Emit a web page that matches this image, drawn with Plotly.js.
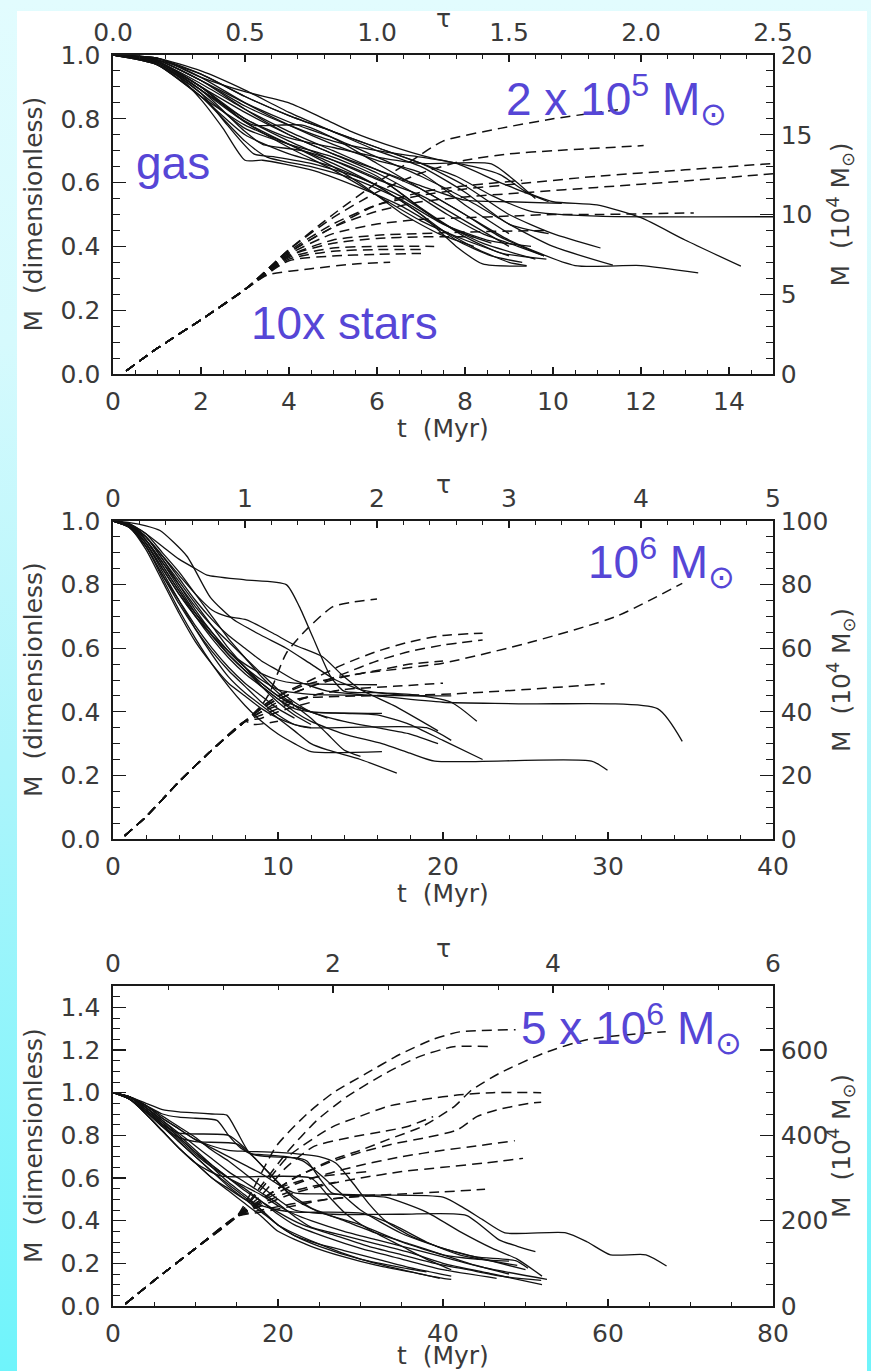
<!DOCTYPE html>
<html>
<head>
<meta charset="utf-8">
<script src="https://cdn.plot.ly/plotly-3.0.1.min.js"></script>
<style>
html,body{margin:0;padding:0;}
body{width:871px;height:1371px;overflow:hidden;
background:linear-gradient(to bottom,#e2fcfe 0%,#d6fafd 25%,#aef5fb 55%,#6ff4fb 100%);}
#plot{width:871px;height:1371px;}
</style>
</head>
<body>
<div id="plot"></div>
<script>
// ---------------- DATA ----------------
// Panel 1: 2 x 10^5 Msun cloud
const p1GasT = [
 [0,0.5,1,1.5,2,2.5,3,3.4,4.5,5.5,6.5,7.5,8.3,9.0,9.4],
 [0,1,2,2.6,3.2,3.7,4.5,5.5,6.5,7.3,8.0,8.8,9.85],
 [0,1,2,3,3.4,4.3,5.2,6.2,7.0,7.8,8.6],
 [0,1,2,2.8,3.2,4.3,5,6,7,8,8.8,9.8],
 [0,1,2,3,4,5,6,6.8,7.6,8.4,9.2,9.8],
 [0,1,2,3,4,4.8,5.5,6.2,7.3,8.2,8.8,9.4,10,11,12,13,14.27],
 [0,1,2,3,4,5,6,7,7.8,8.6,9.5,11,15],
 [0,1,2,3,4,5,6,7,8,9,10.5,12,13.3],
 [0,1,2,3,4,5,6,7,8,9,10,11.36],
 [0,1,2,3,4,5,6,7,8,9,10,11.08],
 [0,1,2,3,4,5,6,7,8.6,9.1,9.6],
 [0,1,2,3,4,5,6,7,8,9,10.2],
 [0,1,2,3,4,5,6,7,7.8,8.6,9.3],
 [0,1,2,3,4,5,6,7,8,9],
 [0,1,2,3,4,5,6,6.6,7.4,8.4,9.6],
 [0,1,2,3,4,5,6,7,7.8,8.8,9.9],
 [0,1,2,3,4,5,6,7,8,9],
 [0,1,2,3,4,5,5.8,6.6,7.4,8.2],
 [0,1,2,3,4,5,6,7,8,9,9.9],
 [0,1,2,3,4,5,6,7,7.8,8.4,9.4],
 [0,1,2,3,3.5,4.5,5.5,6.5,7.5,8.5,9.5],
 [0,1,2,3,4,5,6,7,8,9]
];
const p1GasM = [
 [1,0.995,0.97,0.93,0.86,0.77,0.67,0.67,0.64,0.59,0.53,0.45,0.39,0.35,0.34],
 [1,0.975,0.88,0.78,0.69,0.68,0.66,0.62,0.56,0.49,0.43,0.38,0.36],
 [1,0.98,0.89,0.76,0.72,0.70,0.66,0.60,0.52,0.45,0.41],
 [1,0.98,0.90,0.81,0.78,0.78,0.74,0.66,0.58,0.50,0.43,0.37],
 [1,0.985,0.92,0.83,0.75,0.69,0.63,0.57,0.50,0.44,0.40,0.37],
 [1,0.99,0.93,0.885,0.85,0.80,0.755,0.72,0.675,0.65,0.625,0.57,0.54,0.53,0.49,0.42,0.338],
 [1,0.985,0.94,0.87,0.81,0.76,0.71,0.66,0.62,0.56,0.51,0.495,0.493],
 [1,0.98,0.91,0.83,0.76,0.70,0.64,0.58,0.50,0.42,0.34,0.34,0.317],
 [1,0.985,0.92,0.85,0.79,0.74,0.68,0.62,0.55,0.47,0.40,0.341],
 [1,0.99,0.94,0.87,0.81,0.76,0.71,0.66,0.59,0.50,0.44,0.395],
 [1,0.98,0.90,0.80,0.74,0.71,0.68,0.66,0.659,0.61,0.55],
 [1,0.98,0.90,0.82,0.75,0.69,0.64,0.59,0.545,0.54,0.535],
 [1,0.97,0.87,0.75,0.69,0.65,0.59,0.50,0.42,0.37,0.35],
 [1,0.98,0.90,0.79,0.71,0.64,0.56,0.48,0.42,0.37],
 [1,0.975,0.88,0.77,0.72,0.68,0.62,0.56,0.48,0.41,0.36],
 [1,0.985,0.92,0.84,0.78,0.73,0.70,0.68,0.66,0.60,0.54],
 [1,0.975,0.89,0.80,0.73,0.67,0.61,0.56,0.48,0.40],
 [1,0.97,0.87,0.78,0.72,0.65,0.58,0.50,0.44,0.40],
 [1,0.99,0.95,0.89,0.82,0.76,0.70,0.65,0.57,0.47,0.44],
 [1,0.98,0.89,0.79,0.72,0.66,0.59,0.50,0.40,0.345,0.338],
 [1,0.97,0.87,0.73,0.68,0.65,0.61,0.55,0.47,0.42,0.40],
 [1,0.99,0.93,0.85,0.78,0.72,0.67,0.63,0.53,0.44]
];
const p1StarStartT = [0.3,1,2,3];
const p1StarStartM = [0.01,0.08,0.17,0.265];
const p1StarT = [
 [4,5,6,6.8,7.5,8.8,10,11.55],
 [4,5,6,7,8,9,10,12.06],
 [4,5,6,7,8,9.5,11,13,15],
 [4,5,6,7,8,9.5,11,13,15],
 [4,5,6,7,8,9.3],
 [4,5,6,7,8,9,10,11,13.2],
 [4,5,6,7,8,9.8],
 [4,5,6,7.3],
 [4,5,6,7.0],
 [3.5,4.5,5.5,6.3],
 [4,5,6,7,8.2],
 [4,5,6,7]
];
const p1StarM = [
 [0.39,0.50,0.60,0.67,0.73,0.77,0.80,0.83],
 [0.39,0.49,0.57,0.63,0.67,0.69,0.70,0.716],
 [0.385,0.47,0.53,0.56,0.58,0.60,0.62,0.64,0.66],
 [0.38,0.46,0.51,0.54,0.555,0.57,0.585,0.605,0.628],
 [0.38,0.46,0.53,0.57,0.59,0.607],
 [0.375,0.44,0.47,0.485,0.49,0.495,0.50,0.50,0.505],
 [0.37,0.42,0.435,0.44,0.445,0.45],
 [0.365,0.395,0.40,0.40],
 [0.355,0.37,0.375,0.378],
 [0.31,0.33,0.345,0.35],
 [0.37,0.41,0.425,0.43,0.43],
 [0.36,0.385,0.39,0.39]
];

// Panel 2: 10^6 Msun cloud
const p2GasT = [
 [0,1,2,3,4,5,5.7,8,10.5,11.3,12.1,13.2,14,16,18,20.5,22.05],
 [0,1,2,3,4,5,6,7,8,9,10,11,13,16,20,25,33,34.5],
 [0,1,2,3,4,5,6,7,8,9,10,11,12,14,16.3,18,19.5,29,29.97],
 [0,1,2,3,4,5,6,7,8,9,10,11,12,14,16,18,20,22.4],
 [0,1,2,3,4,5,6,7,8,9,10,11,12,13,15,17.2],
 [0,1,2,3,4,5,6,7,8,9,10,11,11.8,19,20.5],
 [0,1,2,3,4,5,6,7,8,9,10,11,12,16.3],
 [0,1,2,3,4,5,6,7,8,9,10,11,12,16.3],
 [0,1,2,3,4,5,6,6.9,8.1,9.7,11,12.7,13.8,15,17,19.7],
 [0,1,2,2.85,4.47,5.9,7.3,9,10.5,12,13.5,15,17,19],
 [0,1,2,3,4,5,6,7,8,9,10,11,12,13],
 [0,1,2,3,4,5,6,7,8,9,10,11,12],
 [0,1,2,3,4,5,6,7,8,9,10,11,16],
 [0,1,2,3,4,5,6,7,8,9,10,11,12,20.5],
 [0,1,2,3,4,5,6,7,8,9,10,11,12],
 [0,1,2,3,4,5,6,7,8,9,10,11],
 [0,1,2,3,4,5,6,7,8,9,10,11,12,13,14,15],
 [0,1,2,3,4,5,6,7,8,9,10,11,12,14,16,18,19.7]
];
const p2GasM = [
 [1,0.99,0.96,0.92,0.88,0.85,0.83,0.815,0.80,0.73,0.636,0.51,0.465,0.46,0.455,0.43,0.37],
 [1,0.99,0.95,0.89,0.82,0.75,0.69,0.64,0.60,0.56,0.53,0.50,0.465,0.45,0.43,0.425,0.41,0.307],
 [1,0.99,0.94,0.87,0.79,0.71,0.64,0.58,0.53,0.48,0.44,0.40,0.37,0.33,0.30,0.27,0.245,0.245,0.216],
 [1,0.985,0.93,0.85,0.77,0.70,0.64,0.58,0.53,0.49,0.45,0.42,0.40,0.395,0.39,0.36,0.31,0.25],
 [1,0.98,0.93,0.84,0.75,0.66,0.58,0.51,0.46,0.42,0.38,0.34,0.30,0.28,0.25,0.207],
 [1,0.98,0.92,0.83,0.74,0.66,0.59,0.53,0.48,0.43,0.39,0.36,0.35,0.35,0.31],
 [1,0.985,0.94,0.86,0.78,0.70,0.63,0.57,0.52,0.48,0.44,0.41,0.40,0.395],
 [1,0.98,0.92,0.82,0.72,0.63,0.55,0.48,0.42,0.37,0.33,0.30,0.275,0.275],
 [1,0.99,0.95,0.89,0.83,0.77,0.72,0.70,0.689,0.647,0.61,0.573,0.52,0.47,0.42,0.34],
 [1,0.995,0.985,0.97,0.89,0.76,0.69,0.64,0.60,0.55,0.50,0.47,0.455,0.45],
 [1,0.99,0.94,0.86,0.78,0.71,0.65,0.59,0.54,0.49,0.45,0.42,0.40,0.38],
 [1,0.98,0.91,0.81,0.71,0.62,0.55,0.49,0.45,0.41,0.38,0.36,0.35],
 [1,0.985,0.93,0.85,0.77,0.70,0.64,0.59,0.55,0.52,0.50,0.49,0.485],
 [1,0.99,0.95,0.88,0.80,0.72,0.65,0.59,0.54,0.50,0.47,0.46,0.455,0.45],
 [1,0.99,0.95,0.88,0.81,0.74,0.67,0.60,0.54,0.48,0.43,0.39,0.36],
 [1,0.98,0.92,0.83,0.75,0.67,0.60,0.54,0.49,0.45,0.41,0.38],
 [1,0.99,0.96,0.90,0.84,0.77,0.70,0.63,0.57,0.51,0.46,0.42,0.38,0.33,0.28,0.26],
 [1,0.985,0.94,0.87,0.80,0.73,0.67,0.62,0.57,0.52,0.47,0.43,0.40,0.37,0.35,0.33,0.30]
];
const p2StarStartT = [0.7,2,4,6,8];
const p2StarStartM = [0.01,0.07,0.18,0.28,0.37];
const p2StarT = [
 [9,9.5,10.5,11.7,13.3,14.5,16],
 [9,10,12,15,20,25.4,30.5,34.5],
 [9,10,12,14,16,18,20,22.4],
 [9,10,12,14,16,18,20,22.4],
 [9,10,12,15,20,25,29.8],
 [9,10,12,14,16,18,20],
 [9,10,12,14,17,20],
 [9,10,12,14],
 [9,10,12],
 [8.5,10]
];
const p2StarM = [
 [0.42,0.46,0.584,0.657,0.73,0.745,0.755],
 [0.415,0.45,0.49,0.52,0.553,0.62,0.70,0.804],
 [0.415,0.45,0.50,0.55,0.59,0.62,0.64,0.647],
 [0.41,0.44,0.48,0.52,0.56,0.59,0.61,0.626],
 [0.40,0.43,0.445,0.45,0.455,0.47,0.488],
 [0.41,0.44,0.48,0.51,0.53,0.55,0.56],
 [0.40,0.42,0.45,0.47,0.48,0.49],
 [0.39,0.41,0.45,0.47],
 [0.38,0.40,0.43],
 [0.36,0.37]
];

// Panel 3: 5 x 10^6 Msun cloud
const p3GasT = [
 [0,2,4,6,8,10,12,14,16,18,20,22,26,32,40,42.5,44.8,47.5,54.9,57.5,60.3,64.6,67.1],
 [0,2,4,6,8,10,12,14,16,18,20,22,26.6,35,42.8,46.8,49,51.2],
 [0,2,4,6,8,10,12,13.8,15,16.6,18,21,23,25,27,30,35,40,44,48.8,50.3],
 [0,2,4,6,8,10,12.6,14,15.5,17,19,22,23.5,25,26.5,28,33,38,42,46,49,52],
 [0,2,4,6,8,10,12,14,16,18,20,24,28,32,36,40,41],
 [0,2,4,6,8,10,12,14,16,18,20,25,30,35,39.6],
 [0,2,4,6,8,10,12,14,16,18,20,22,26,30,35,40,46.5],
 [0,2,4,6,8,10,12,14,16,18,20,22,24,28,32,36,40,45,52.6],
 [0,2,4,6,8,10,12,14,16,18,20,22,24,28,32,36,40,46,52],
 [0,2,4,6,8,14,16,18,20,22,25,30,35,40,44,48],
 [0,2,4,6,8,10,15,17,19,21,24,28,32,36,40,44,48],
 [0,2,4,6,8,10,13,24,26,28,31,35,38,41],
 [0,2,4,6,8,10,12,14,16,18,20,22,30,34,38,42,46,49],
 [0,2,4,6,8,10,12,14,16,18,20,23,27,31,35,39,43,47,51.9],
 [0,2,4,6,8,10,12,14,16,18,20,22,25,30,35,38],
 [0,2,4,6,8,10,12,14,16,20,25,27,29,31,33,36,40,45,50],
 [0,2,4,6,8,10,12,14,16,18,20,22,25,28,32,36,41]
];
const p3GasM = [
 [1,0.98,0.94,0.88,0.83,0.78,0.74,0.70,0.66,0.62,0.57,0.53,0.525,0.52,0.51,0.46,0.405,0.343,0.343,0.30,0.24,0.24,0.1875],
 [1,0.98,0.94,0.89,0.84,0.79,0.73,0.68,0.62,0.56,0.50,0.45,0.43,0.43,0.425,0.31,0.28,0.255],
 [1,0.98,0.95,0.92,0.91,0.905,0.90,0.895,0.82,0.716,0.71,0.70,0.68,0.62,0.55,0.45,0.34,0.27,0.23,0.2125,0.177],
 [1,0.98,0.94,0.90,0.885,0.88,0.87,0.80,0.74,0.71,0.70,0.695,0.68,0.60,0.53,0.52,0.51,0.44,0.35,0.27,0.22,0.14],
 [1,0.97,0.90,0.82,0.74,0.67,0.60,0.54,0.48,0.42,0.35,0.28,0.23,0.19,0.16,0.13,0.125],
 [1,0.97,0.91,0.84,0.77,0.70,0.63,0.57,0.51,0.45,0.38,0.29,0.22,0.17,0.13],
 [1,0.98,0.93,0.86,0.79,0.72,0.66,0.60,0.55,0.49,0.43,0.38,0.32,0.27,0.22,0.17,0.13],
 [1,0.98,0.92,0.85,0.78,0.71,0.65,0.60,0.56,0.52,0.47,0.43,0.40,0.35,0.31,0.27,0.23,0.18,0.125],
 [1,0.98,0.93,0.87,0.81,0.75,0.69,0.63,0.58,0.53,0.48,0.42,0.37,0.33,0.29,0.25,0.20,0.15,0.10],
 [1,0.97,0.91,0.85,0.81,0.80,0.74,0.66,0.58,0.50,0.44,0.38,0.30,0.24,0.22,0.21],
 [1,0.97,0.91,0.84,0.79,0.77,0.76,0.70,0.62,0.54,0.46,0.40,0.34,0.29,0.24,0.19,0.15],
 [1,0.97,0.90,0.82,0.74,0.67,0.61,0.60,0.52,0.44,0.36,0.28,0.22,0.17],
 [1,0.97,0.90,0.82,0.74,0.67,0.60,0.55,0.50,0.47,0.45,0.44,0.435,0.38,0.30,0.24,0.21,0.19],
 [1,0.98,0.93,0.87,0.80,0.73,0.66,0.60,0.54,0.49,0.44,0.38,0.33,0.28,0.24,0.20,0.17,0.14,0.12],
 [1,0.97,0.92,0.86,0.79,0.72,0.65,0.58,0.52,0.45,0.38,0.33,0.28,0.22,0.18,0.16],
 [1,0.98,0.94,0.88,0.83,0.78,0.75,0.73,0.725,0.72,0.70,0.67,0.58,0.48,0.40,0.33,0.27,0.22,0.17],
 [1,0.98,0.92,0.85,0.77,0.70,0.63,0.56,0.50,0.44,0.38,0.33,0.29,0.26,0.22,0.18,0.14]
];
const p3StarStartT = [1.5,5,10,15];
const p3StarStartM = [0.01,0.12,0.27,0.42];
const p3StarT = [
 [17,19.8,23.5,26.7,30.7,34.8,38.8,42,48.8],
 [17.5,21,24.7,28.3,33,37.2,41.25,45.5],
 [18,22,26.6,30,33.3,37.4,41.4,43.4,46.8,52.2,57.6,67],
 [18,21.2,26.6,30,33.3,38,42,46,51.9],
 [18,22,26,30,34,38,41.7,44.1,46.5,50.5,51.9],
 [18,21,24.3,28.7,33,35.6,38.8],
 [18,22,26,30,35,40,44,48.7],
 [18,22,26,30,35,40,45,49.7],
 [18,22,26,30,35,40,45.1],
 [18,22,26,32],
 [18,21,24,27],
 [17,20,24,28,31]
];
const p3StarM = [
 [0.55,0.75,0.90,1.0,1.09,1.18,1.25,1.285,1.295],
 [0.54,0.716,0.87,0.98,1.09,1.17,1.215,1.216],
 [0.50,0.60,0.686,0.73,0.78,0.84,0.936,1.01,1.09,1.185,1.25,1.286],
 [0.55,0.70,0.84,0.89,0.936,0.97,0.99,1.0,1.0],
 [0.50,0.60,0.67,0.72,0.76,0.79,0.825,0.8875,0.919,0.95,0.955],
 [0.52,0.65,0.747,0.79,0.82,0.84,0.8875],
 [0.49,0.57,0.62,0.66,0.70,0.73,0.75,0.775],
 [0.47,0.53,0.57,0.60,0.63,0.65,0.67,0.692],
 [0.45,0.48,0.50,0.515,0.525,0.535,0.547],
 [0.44,0.47,0.50,0.52],
 [0.48,0.53,0.56,0.58],
 [0.46,0.55,0.60,0.62,0.63]
];

// Axis ticks and labels
const p1TTicks=[0,2,4,6,8,10,12,14], p1TLabels=["0","2","4","6","8","10","12","14"];
const p1TauTicks=[0,0.5,1,1.5,2,2.5], p1TauLabels=["0.0","0.5","1.0","1.5","2.0","2.5"];
const p1MTicks=[0,0.2,0.4,0.6,0.8,1.0], p1MLabels=["0.0","0.2","0.4","0.6","0.8","1.0"];
const p1RTicks=[0,5,10,15,20], p1RLabels=["0","5","10","15","20"];
const p2TTicks=[0,10,20,30,40], p2TLabels=["0","10","20","30","40"];
const p2TauTicks=[0,1,2,3,4,5], p2TauLabels=["0","1","2","3","4","5"];
const p2MTicks=[0,0.2,0.4,0.6,0.8,1.0], p2MLabels=["0.0","0.2","0.4","0.6","0.8","1.0"];
const p2RTicks=[0,20,40,60,80,100], p2RLabels=["0","20","40","60","80","100"];
const p3TTicks=[0,20,40,60,80], p3TLabels=["0","20","40","60","80"];
const p3TauTicks=[0,2,4,6], p3TauLabels=["0","2","4","6"];
const p3MTicks=[0,0.2,0.4,0.6,0.8,1.0,1.2,1.4], p3MLabels=["0.0","0.2","0.4","0.6","0.8","1.0","1.2","1.4"];
const p3RTicks=[0,200,400,600], p3RLabels=["0","200","400","600"];
const panelLabels=["2 x 10<sup>5</sup> M<sub>⊙</sub>","10<sup>6</sup> M<sub>⊙</sub>","5 x 10<sup>6</sup> M<sub>⊙</sub>"];

// ---------------- LAYOUT / DRAW ----------------
const W=871,H=1371;
const fx=p=>p/W, fy=p=>1-p/H;
const AX={left:113,right:773};
const panels=[
 {top:55,bottom:374,tR:[0,15],tauR:[0,2.5],mR:[0,1],rR:[0,20],tMin:0.5,tauMin:0.1,mMin:0.05,rMin:1,
  gT:p1GasT,gM:p1GasM,sT0:p1StarStartT,sM0:p1StarStartM,sT:p1StarT,sM:p1StarM,
  tt:[p1TTicks,p1TLabels],ta:[p1TauTicks,p1TauLabels],mm:[p1MTicks,p1MLabels],rr:[p1RTicks,p1RLabels]},
 {top:521,bottom:839,tR:[0,40],tauR:[0,5],mR:[0,1],rR:[0,100],tMin:2,tauMin:0.2,mMin:0.05,rMin:5,
  gT:p2GasT,gM:p2GasM,sT0:p2StarStartT,sM0:p2StarStartM,sT:p2StarT,sM:p2StarM,
  tt:[p2TTicks,p2TLabels],ta:[p2TauTicks,p2TauLabels],mm:[p2MTicks,p2MLabels],rr:[p2RTicks,p2RLabels]},
 {top:986,bottom:1306,tR:[0,80],tauR:[0,6],mR:[0,1.5],rR:[0,750],tMin:5,tauMin:0.5,mMin:0.05,rMin:50,
  gT:p3GasT,gM:p3GasM,sT0:p3StarStartT,sM0:p3StarStartM,sT:p3StarT,sM:p3StarM,
  tt:[p3TTicks,p3TLabels],ta:[p3TauTicks,p3TauLabels],mm:[p3MTicks,p3MLabels],rr:[p3RTicks,p3RLabels]}
];
const TXT='#3a3a3a', LN='#1a1a1a';
const tickFont={family:'DejaVu Sans, sans-serif',size:25,color:TXT};
const blue='#5646d6';
const layout={width:W,height:H,margin:{l:0,r:0,t:0,b:0},
 paper_bgcolor:'rgba(0,0,0,0)',plot_bgcolor:'rgba(0,0,0,0)',showlegend:false,
 shapes:[{type:'rect',xref:'paper',yref:'paper',x0:fx(17),x1:fx(867),y0:0,y1:fy(11),
   fillcolor:'#ffffff',line:{width:0},layer:'below'}],
 annotations:[]};
const data=[];
function baseAx(ticks,labels,len,minLen,minD){
 return {showline:true,linecolor:LN,linewidth:1.7,ticks:'inside',ticklen:len,tickwidth:1.3,tickcolor:LN,
  tickmode:'array',tickvals:ticks,ticktext:labels,tickfont:tickFont,showgrid:false,zeroline:false,
  fixedrange:true,minor:{ticks:'inside',ticklen:minLen,tickwidth:1,tickcolor:LN,tick0:0,dtick:minD,showgrid:false}};
}
panels.forEach((p,i)=>{
 const n=i*2+1, m=n+1;
 const xs=n===1?'':String(n), xs2=String(m);
 const xa='x'+xs, ya='y'+xs, xa2='x'+xs2, ya2='y'+xs2;
 const dom=[fy(p.bottom),fy(p.top)];
 layout['xaxis'+xs]=Object.assign(baseAx(p.tt[0],p.tt[1],7,4,p.tMin),{domain:[fx(AX.left),fx(AX.right)],range:p.tR,anchor:ya,side:'bottom',ticklabelstandoff:4});
 layout['yaxis'+xs]=Object.assign(baseAx(p.mm[0],p.mm[1],13,7,p.mMin),{domain:dom,range:p.mR,anchor:xa,side:'left',ticklabelstandoff:6});
 layout['xaxis'+xs2]=Object.assign(baseAx(p.ta[0],p.ta[1],7,4,p.tauMin),{overlaying:xa,range:p.tauR,anchor:ya,side:'top',ticklabelstandoff:2});
 layout['yaxis'+xs2]=Object.assign(baseAx(p.rr[0],p.rr[1],13,7,p.rMin),{overlaying:ya,range:p.rR,anchor:xa,side:'right',ticklabelstandoff:1});
 // empty traces to register overlay subplots
 data.push({type:'scatter',mode:'lines',x:[],y:[],xaxis:xa2,yaxis:ya,hoverinfo:'skip'});
 data.push({type:'scatter',mode:'lines',x:[],y:[],xaxis:xa,yaxis:ya2,hoverinfo:'skip'});
 p.gT.forEach((tt,k)=>data.push({type:'scatter',mode:'lines',x:tt,y:p.gM[k],xaxis:xa,yaxis:ya,
   line:{color:'#111',width:1.3,shape:'spline',smoothing:0.6},hoverinfo:'skip'}));
 p.sT.forEach((tt,k)=>data.push({type:'scatter',mode:'lines',x:p.sT0.concat(tt),y:p.sM0.concat(p.sM[k]),xaxis:xa,yaxis:ya,
   line:{color:'#111',width:1.5,dash:'10px,6px',shape:'spline',smoothing:0.6},hoverinfo:'skip'}));
 const cy=(p.top+p.bottom)/2;
 const axFont={family:'DejaVu Sans, sans-serif',size:25,color:TXT};
 layout.annotations.push(
  {xref:'paper',yref:'paper',x:fx(33),y:fy(cy),text:'M  (dimensionless)',textangle:-90,showarrow:false,font:axFont,xanchor:'center',yanchor:'middle'},
  {xref:'paper',yref:'paper',x:fx(841),y:fy(cy),text:'M  (10<sup>4</sup> M<sub>⊙</sub>)',textangle:-90,showarrow:false,font:axFont,xanchor:'center',yanchor:'middle'},
  {xref:'paper',yref:'paper',x:fx(443),y:fy(Math.min(p.bottom+54,1355)),text:'t  (Myr)',showarrow:false,font:axFont,xanchor:'center',yanchor:'middle'},
  {xref:'paper',yref:'paper',x:fx(443),y:fy(p.top-37),text:'τ',showarrow:false,font:axFont,xanchor:'center',yanchor:'middle'}
 );
});
const bigFont={family:'Liberation Sans, Arial, sans-serif',size:46,color:blue};
layout.annotations.push(
 {xref:'paper',yref:'paper',x:fx(616),y:fy(100),text:panelLabels[0],showarrow:false,font:bigFont,xanchor:'center',yanchor:'middle'},
 {xref:'paper',yref:'paper',x:fx(173),y:fy(163),text:'gas',showarrow:false,font:bigFont,xanchor:'center',yanchor:'middle'},
 {xref:'paper',yref:'paper',x:fx(344),y:fy(323),text:'10x stars',showarrow:false,font:bigFont,xanchor:'center',yanchor:'middle'},
 {xref:'paper',yref:'paper',x:fx(661),y:fy(563),text:panelLabels[1],showarrow:false,font:bigFont,xanchor:'center',yanchor:'middle'},
 {xref:'paper',yref:'paper',x:fx(631),y:fy(1028),text:panelLabels[2],showarrow:false,font:bigFont,xanchor:'center',yanchor:'middle'}
);
Plotly.newPlot('plot',data,layout,{staticPlot:true,displayModeBar:false});
</script>
</body>
</html>
